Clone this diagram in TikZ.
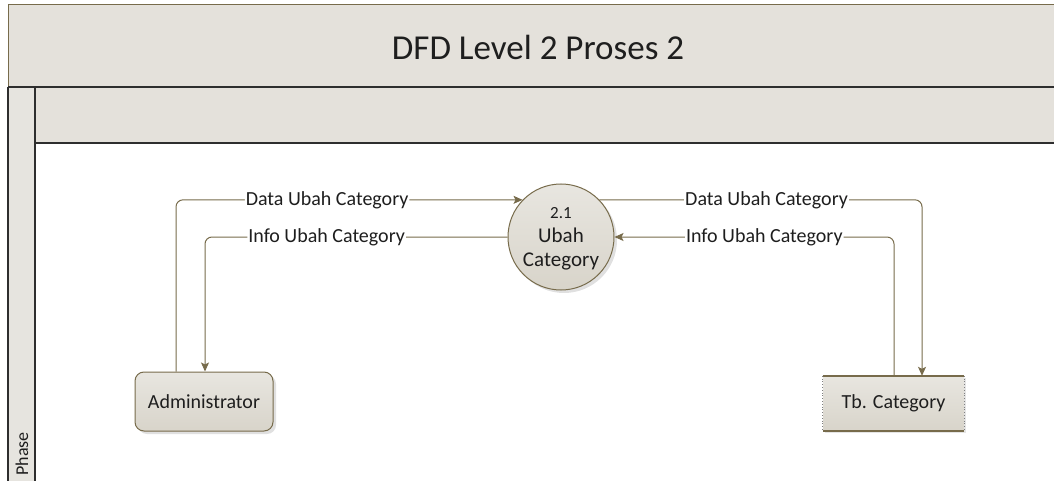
\documentclass[tikz,border=0pt]{standalone}
\usepackage{fontspec}
\setmainfont{Carlito}
\usetikzlibrary{arrows.meta,shadows}

\definecolor{flowline}{HTML}{776B4B}
\definecolor{bandfill}{HTML}{E4E1DB}
\definecolor{stripfill}{HTML}{E6E4DF}
\definecolor{frameline}{HTML}{2E2E2E}
\definecolor{shapetop}{HTML}{E8E6E0}
\definecolor{shapebot}{HTML}{D8D4CA}
\definecolor{txt}{HTML}{1E1E1E}

\tikzset{
  flow/.style={draw=flowline, line width=1pt, rounded corners=7pt},
  tip/.style={-{Stealth[length=9pt,width=8pt,inset=2pt]}},
  lbl/.style={fill=white, inner sep=1pt, text=txt, font=\fontsize{20}{24}\selectfont},
  entity/.style={draw=flowline, line width=1pt, rounded corners=9pt,
    top color=shapetop, bottom color=shapebot, text=txt,
    font=\fontsize{20}{24}\selectfont,
    drop shadow={shadow xshift=3pt, shadow yshift=-3pt, fill=black, opacity=0.12}},
  procbox/.style={circle, draw=flowline, line width=1pt,
    top color=shapetop, bottom color=shapebot, text=txt,
    minimum size=106pt, inner sep=0pt, align=center,
    font=\fontsize{21}{24}\selectfont,
    drop shadow={shadow xshift=3pt, shadow yshift=-3pt, fill=black, opacity=0.12}},
  storebox/.style={top color=shapetop, bottom color=shapebot, text=txt,
    font=\fontsize{20}{24}\selectfont,
    drop shadow={shadow xshift=2pt, shadow yshift=-2pt, fill=black, opacity=0.10}},
}

\begin{document}
\begin{tikzpicture}[x=1pt,y=-1pt]
\useasboundingbox (0,0) rectangle (1054,481);

% swimlane frame
\fill[bandfill] (8,5) rectangle (1060,87);
\fill[bandfill] (35,87) rectangle (1060,143);
\fill[stripfill] (8,87) rectangle (35,490);
\draw[flowline, line width=1pt] (1060,5) -- (8,5) -- (8,87);
\draw[frameline, line width=1.2pt] (8,87) -- (1060,87);
\draw[frameline, line width=1.2pt] (8,87) -- (8,490);
\draw[frameline, line width=1.2pt] (35,87) -- (35,490);
\draw[frameline, line width=1.2pt] (35,143) -- (1060,143);

\node[text=txt, font=\fontsize{35}{40}\selectfont] (title) at (538,47) {DFD Level 2 Proses 2};
\node[text=txt, font=\fontsize{18}{20}\selectfont, rotate=90, anchor=west] (phase) at (22,479) {Phase};

% external entity, process and data store
\node[entity, minimum width=138pt, minimum height=59pt] (adm) at (204,401.5) {Administrator};
\node[procbox] (proc) at (561,237) {};
\node[text=txt, align=center, font=\fontsize{21}{24}\selectfont] (proclabel) at (561,239)
  {{\fontsize{17}{24}\selectfont 2.1}\\Ubah\\Category};
\node[storebox, minimum width=141pt, minimum height=55pt] (store) at (893.5,403.5) {Tb. Category};
\draw[flowline, line width=2pt] (store.north west) -- (store.north east);
\draw[flowline, line width=2pt] (store.south west) -- (store.south east);
\draw[gray, dotted, line width=0.8pt] (store.north west) -- (store.south west);
\draw[gray, dotted, line width=0.8pt] (store.north east) -- (store.south east);

% data flows
\coordinate (admout) at ([xshift=-28pt]adm.north);
\coordinate (admin) at ([xshift=1pt]adm.north);
\coordinate (storein) at ([xshift=28.5pt]store.north);
\coordinate (storeout) at ([xshift=0.5pt]store.north);

\draw[flow, tip] (admout) |- node[lbl, pos=0.718] {Data Ubah Category} (proc.136);
\draw[flow, tip] (proc.west) -| node[lbl, pos=0.299] {Info Ubah Category} (admin);
\draw[flow, tip] (proc.44) -| node[lbl, pos=0.259] {Data Ubah Category} (storein);
\draw[flow, tip] (storeout) |- node[lbl, pos=0.732] {Info Ubah Category} (proc.east);
\end{tikzpicture}
\end{document}
